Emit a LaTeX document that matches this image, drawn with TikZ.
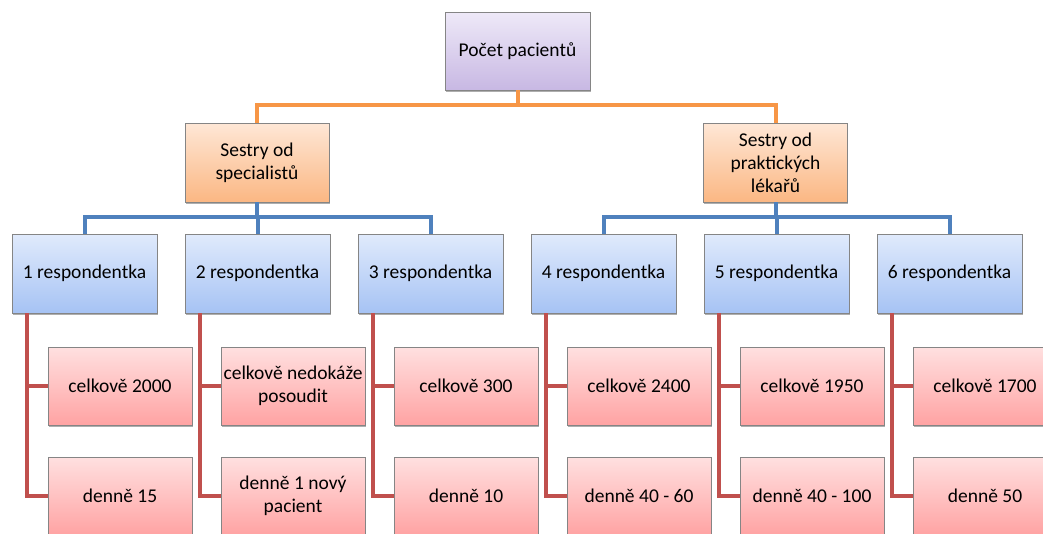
\documentclass[tikz,border=0pt]{standalone}
\usepackage{fontspec}
\setmainfont{Carlito}
\usetikzlibrary{calc,shadows}

\definecolor{lineorange}{HTML}{F79646}
\definecolor{lineblue}{HTML}{4F81BD}
\definecolor{linered}{HTML}{C0504D}
\definecolor{boxedge}{HTML}{858585}
\definecolor{rootTop}{HTML}{EEE9F8}
\definecolor{rootBottom}{HTML}{C8B8E3}
\definecolor{groupTop}{HTML}{FEE7D6}
\definecolor{groupBottom}{HTML}{FBB783}
\definecolor{personTop}{HTML}{E0EAFC}
\definecolor{personBottom}{HTML}{A6C3F4}
\definecolor{leafTop}{HTML}{FFE0E0}
\definecolor{leafBottom}{HTML}{FFA3A3}

\tikzset{
  box/.style={draw=boxedge, line width=0.8pt, align=center, inner sep=1pt,
    font=\fontsize{19.5}{23}\selectfont,
    drop shadow={shadow xshift=0.8pt, shadow yshift=-1.6pt, opacity=0.45, fill=black!70}},
  rootbox/.style={box, minimum width=145pt, minimum height=78pt,
    top color=rootTop, bottom color=rootBottom},
  groupbox/.style={box, minimum width=144pt, minimum height=79pt,
    top color=groupTop, bottom color=groupBottom},
  personbox/.style={box, minimum width=145pt, minimum height=79pt,
    top color=personTop, bottom color=personBottom},
  leafbox/.style={box, minimum width=144pt, minimum height=78pt,
    top color=leafTop, bottom color=leafBottom},
  orangelink/.style={draw=lineorange, line width=4pt},
  bluelink/.style={draw=lineblue, line width=4pt},
  redlink/.style={draw=linered, line width=4pt},
}

\begin{document}
\begin{tikzpicture}[x=1pt, y=-1pt]
\clip (0,0) rectangle (1043,533);
\fill[white] (0,0) rectangle (1043,533);

% root and the two groups
\node[rootbox] (root) at (517.5,51) {Počet pacientů};
\node[groupbox] (gs) at (257,162.5) {Sestry od\\specialistů};
\node[groupbox] (gp) at (775.5,162.5) {Sestry od\\praktických\\lékařů};

% respondents
\node[personbox] (r1) at (84.5,273.5) {1 respondentka};
\node[personbox] (r2) at (257.5,273.5) {2 respondentka};
\node[personbox] (r3) at (430.5,273.5) {3 respondentka};
\node[personbox] (r4) at (603.5,273.5) {4 respondentka};
\node[personbox] (r5) at (776.5,273.5) {5 respondentka};
\node[personbox] (r6) at (949.5,273.5) {6 respondentka};

% answers
\node[leafbox] (a1) at (120,386) {celkově 2000};
\node[leafbox] (b1) at (120,496) {denně 15};
\node[leafbox] (a2) at (293,386) {celkově nedokáže\\posoudit};
\node[leafbox] (b2) at (293,496) {denně 1 nový\\pacient};
\node[leafbox] (a3) at (466,386) {celkově 300};
\node[leafbox] (b3) at (466,496) {denně 10};
\node[leafbox] (a4) at (639,386) {celkově 2400};
\node[leafbox] (b4) at (639,496) {denně 40 - 60};
\node[leafbox] (a5) at (812,386) {celkově 1950};
\node[leafbox] (b5) at (812,496) {denně 40 - 100};
\node[leafbox] (a6) at (985,386) {celkově 1700};
\node[leafbox] (b6) at (985,496) {denně 50};

% root to groups
\draw[orangelink] (root.south) -- ++(0,15) -| (gs.north);
\draw[orangelink] (root.south) -- ++(0,15) -| (gp.north);

% groups to respondents
\foreach \r in {r1,r2,r3}
  \draw[bluelink] (gs.south) -- ++(0,15) -| (\r.north);
\foreach \r in {r4,r5,r6}
  \draw[bluelink] (gp.south) -- ++(0,15) -| (\r.north);

% respondents to answers
\foreach \i in {1,...,6}{
  \draw[redlink] ($(r\i.south west)+(15,0)$) |- (a\i.west);
  \draw[redlink] ($(r\i.south west)+(15,0)$) |- (b\i.west);
}
\end{tikzpicture}
\end{document}
